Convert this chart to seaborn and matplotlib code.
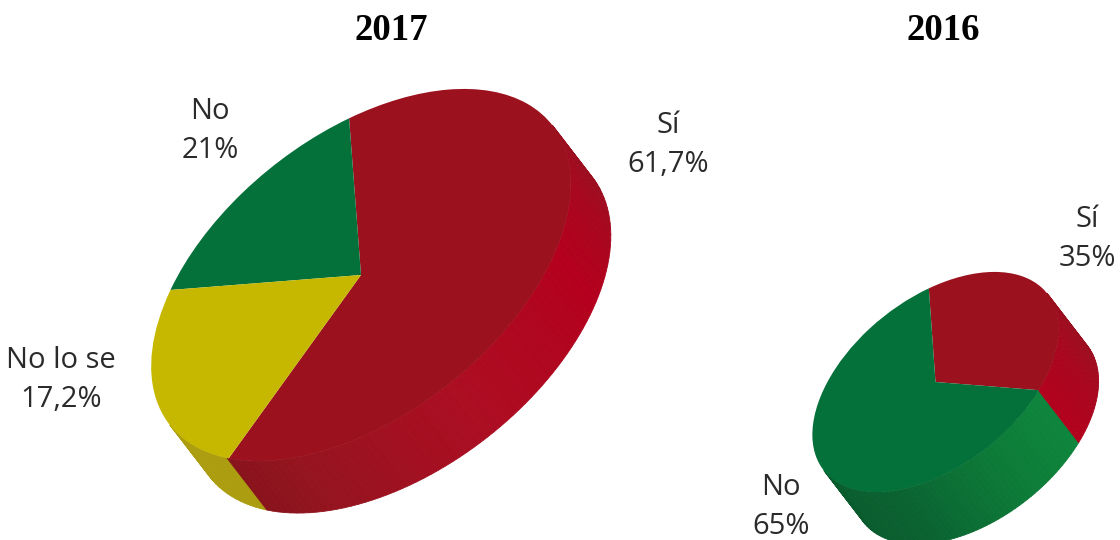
import numpy as np
import matplotlib
matplotlib.use("Agg")
import matplotlib.pyplot as plt
from matplotlib.transforms import Affine2D
import seaborn as sns

# Values
titles = ["2017", "2016"]
slices_2017 = ["Sí", "No", "No lo se"]
# drawn shares (the source's green and yellow areas differ from their printed labels)
shares_2017 = [61.7, 17.2, 21.0]
labels_2017 = ["Sí\n61,7%", "No\n21%", "No lo se\n17,2%"]
slices_2016 = ["Sí", "No"]
shares_2016 = [35.0, 65.0]
labels_2016 = ["Sí\n35%", "No\n65%"]

# Colours
RED, GREEN, YELLOW = "#9B111E", "#04703A", "#C6B800"
red_side = ["#9A1020", "#B4001E", "#AC0E22", "#93141F", "#7A1219"]
red_side_small = ["#9A1020", "#B4001E", "#B4001E", "#B4001E"]
green_side = ["#0F8A3E", "#0F8A3E", "#0D7B38", "#0A6231", "#095A2D"]
yellow_side = ["#AC9D10", "#AC9D10"]

sns.set_theme(style="white")
fig = plt.figure(figsize=(11.2, 5.4), dpi=100, facecolor="white")
ax = fig.add_axes([0, 0, 1, 1])

DEPTH = np.array([40.0, 52.0])
STEP = 2


def draw_pie(shares, colors, sides, start, centre, a, b, tilt_deg):
    th = np.radians(tilt_deg)
    M = np.array([[a * np.cos(th), -b * np.sin(th)],
                  [-a * np.sin(th), -b * np.cos(th)]])
    c = np.asarray(centre, float)
    n = 180 // STEP
    ramps = [sns.blend_palette(s, n_colors=n) for s in sides]
    edges = np.cumsum(shares) / np.sum(shares) * 360
    for i in range(n):
        t0, t1 = -180 + i * STEP, -180 + (i + 1) * STEP
        tm = (t0 + t1) / 2
        k = int(np.searchsorted(edges, (tm - start) % 360))
        # palette position runs from right end (t=0) to left end (t=-180)
        col = ramps[k][n - 1 - i]
        ang = np.radians([t0, t1])
        pts = (M @ np.vstack([np.cos(ang), np.sin(ang)])).T + c
        quad = np.vstack([pts, pts[::-1] + DEPTH])
        ax.fill(quad[:, 0], quad[:, 1], color=col, lw=0.6, zorder=1)
    wedges, _ = ax.pie(shares, colors=colors, startangle=start, radius=1,
                       counterclock=True, frame=True,
                       wedgeprops={"linewidth": 0})
    tf = Affine2D(np.array([[M[0, 0], M[0, 1], c[0]],
                            [M[1, 0], M[1, 1], c[1]],
                            [0, 0, 1]])) + ax.transData
    for w in wedges:
        w.set_transform(tf)
        w.set_zorder(2)


draw_pie(shares_2017, [RED, GREEN, YELLOW], [red_side, red_side, yellow_side],
         206.6, (361, 275), 243, 140, 38.1)
draw_pie(shares_2016, [RED, GREEN], [red_side_small, green_side],
         -57.8, (935.5, 382), 142.5, 83.5, 38.4)

ax.set_aspect("auto")
ax.set_xlim(0, 1120)
ax.set_ylim(540, 0)
ax.axis("off")

serif = {"family": "Liberation Serif", "weight": "bold", "size": 26.5, "color": "black"}
ax.text(391, 31, titles[0], ha="center", va="center", **serif)
ax.text(943, 31, titles[1], ha="center", va="center", **serif)

lab = {"family": "Open Sans", "size": 21, "color": "#2b2b2b", "ha": "center",
       "va": "center", "linespacing": 1.42, "multialignment": "center"}
ax.text(668, 145, labels_2017[0], **lab)
ax.text(210, 131, labels_2017[1], **lab)
ax.text(61, 380, labels_2017[2], **lab)
ax.text(1087, 239, labels_2016[0], **lab)
ax.text(781, 507, labels_2016[1], **lab)

fig.savefig("out.png", dpi=100, facecolor="white")
